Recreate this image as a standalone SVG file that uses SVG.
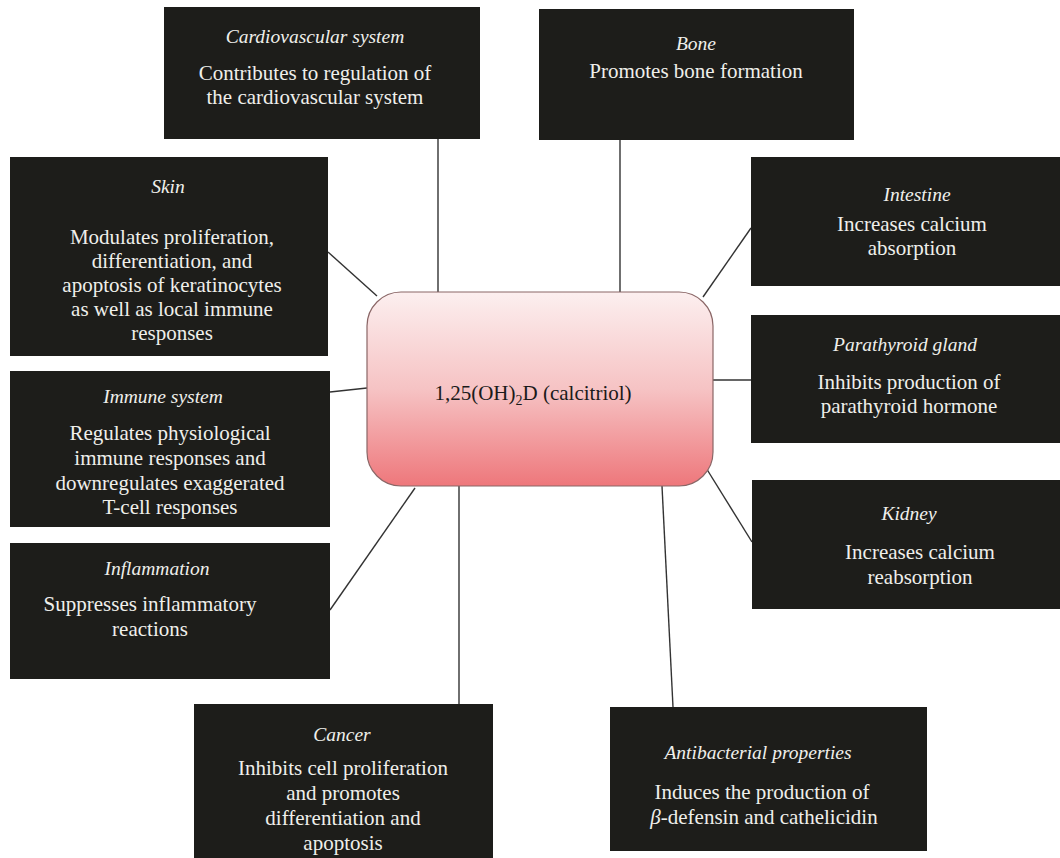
<svg xmlns="http://www.w3.org/2000/svg" width="1060" height="858" viewBox="0 0 1060 858">
<defs>
<linearGradient id="cg" x1="0" y1="0" x2="0" y2="1">
<stop offset="0" stop-color="#fcefef"/>
<stop offset="0.5" stop-color="#f6c3c4"/>
<stop offset="1" stop-color="#ee777b"/>
</linearGradient>
<style>
.box{fill:#1d1d1a}
.t{font-family:"Liberation Serif",serif;font-style:italic;font-size:19.5px;fill:#efefeb;text-anchor:middle}
.b{font-family:"Liberation Serif",serif;font-size:21px;fill:#efefeb;text-anchor:middle}
.c{font-family:"Liberation Serif",serif;font-size:21px;fill:#1a1a1a;text-anchor:middle}
.ln{stroke:#333;stroke-width:1.4;fill:none}
</style>
</defs>
<rect width="1060" height="858" fill="#fff"/>
<g id="connectors">
<line class="ln" x1="438" y1="139" x2="438" y2="292"/>
<line class="ln" x1="620" y1="140" x2="620" y2="292"/>
<line class="ln" x1="328" y1="252" x2="377" y2="296"/>
<line class="ln" x1="751" y1="228" x2="703" y2="297"/>
<line class="ln" x1="330" y1="392" x2="367" y2="388"/>
<line class="ln" x1="713" y1="380" x2="751" y2="380"/>
<line class="ln" x1="330" y1="610" x2="415" y2="488"/>
<line class="ln" x1="459" y1="486" x2="459" y2="704"/>
<line class="ln" x1="662" y1="486" x2="673" y2="707"/>
<line class="ln" x1="703" y1="463" x2="752" y2="542"/>
</g>
<g id="center">
<rect x="367" y="292" width="346" height="194" rx="34" fill="url(#cg)" stroke="#8a6666" stroke-width="1.2"/>
<text class="c" x="533" y="400">1,25(OH)<tspan font-size="14" dy="5">2</tspan><tspan dy="-5">D (calcitriol)</tspan></text>
</g>
<g id="cardiovascular">
<rect class="box" x="164" y="7" width="316" height="132"/>
<text class="t" x="315" y="43">Cardiovascular system</text>
<text class="b" x="315" y="80">Contributes to regulation of</text>
<text class="b" x="315" y="104">the cardiovascular system</text>
</g>
<g id="bone">
<rect class="box" x="539" y="9" width="315" height="131"/>
<text class="t" x="696" y="50">Bone</text>
<text class="b" x="696" y="78">Promotes bone formation</text>
</g>
<g id="skin">
<rect class="box" x="10" y="157" width="318" height="199"/>
<text class="t" x="168" y="193">Skin</text>
<text class="b" x="172" y="244">Modulates proliferation,</text>
<text class="b" x="172" y="268">differentiation, and</text>
<text class="b" x="172" y="292">apoptosis of keratinocytes</text>
<text class="b" x="172" y="316">as well as local immune</text>
<text class="b" x="172" y="340">responses</text>
</g>
<g id="immune">
<rect class="box" x="10" y="371" width="320" height="156"/>
<text class="t" x="163" y="403">Immune system</text>
<text class="b" x="170" y="440">Regulates physiological</text>
<text class="b" x="170" y="465">immune responses and</text>
<text class="b" x="170" y="490">downregulates exaggerated</text>
<text class="b" x="170" y="514">T-cell responses</text>
</g>
<g id="inflammation">
<rect class="box" x="10" y="543" width="320" height="136"/>
<text class="t" x="157" y="575">Inflammation</text>
<text class="b" x="150" y="611">Suppresses inflammatory</text>
<text class="b" x="150" y="636">reactions</text>
</g>
<g id="cancer">
<rect class="box" x="194" y="704" width="299" height="154"/>
<text class="t" x="342" y="741">Cancer</text>
<text class="b" x="343" y="775">Inhibits cell proliferation</text>
<text class="b" x="343" y="800">and promotes</text>
<text class="b" x="343" y="825">differentiation and</text>
<text class="b" x="343" y="850">apoptosis</text>
</g>
<g id="antibacterial">
<rect class="box" x="610" y="707" width="317" height="144"/>
<text class="t" x="758" y="759">Antibacterial properties</text>
<text class="b" x="762" y="799">Induces the production of</text>
<text class="b" x="764" y="824"><tspan font-style="italic">β</tspan>-defensin and cathelicidin</text>
</g>
<g id="intestine">
<rect class="box" x="751" y="157" width="309" height="129"/>
<text class="t" x="917" y="201">Intestine</text>
<text class="b" x="912" y="231">Increases calcium</text>
<text class="b" x="912" y="255">absorption</text>
</g>
<g id="parathyroid">
<rect class="box" x="751" y="315" width="309" height="128"/>
<text class="t" x="905" y="351">Parathyroid gland</text>
<text class="b" x="909" y="389">Inhibits production of</text>
<text class="b" x="909" y="413">parathyroid hormone</text>
</g>
<g id="kidney">
<rect class="box" x="752" y="480" width="308" height="129"/>
<text class="t" x="909" y="520">Kidney</text>
<text class="b" x="920" y="559">Increases calcium</text>
<text class="b" x="920" y="584">reabsorption</text>
</g>
</svg>
